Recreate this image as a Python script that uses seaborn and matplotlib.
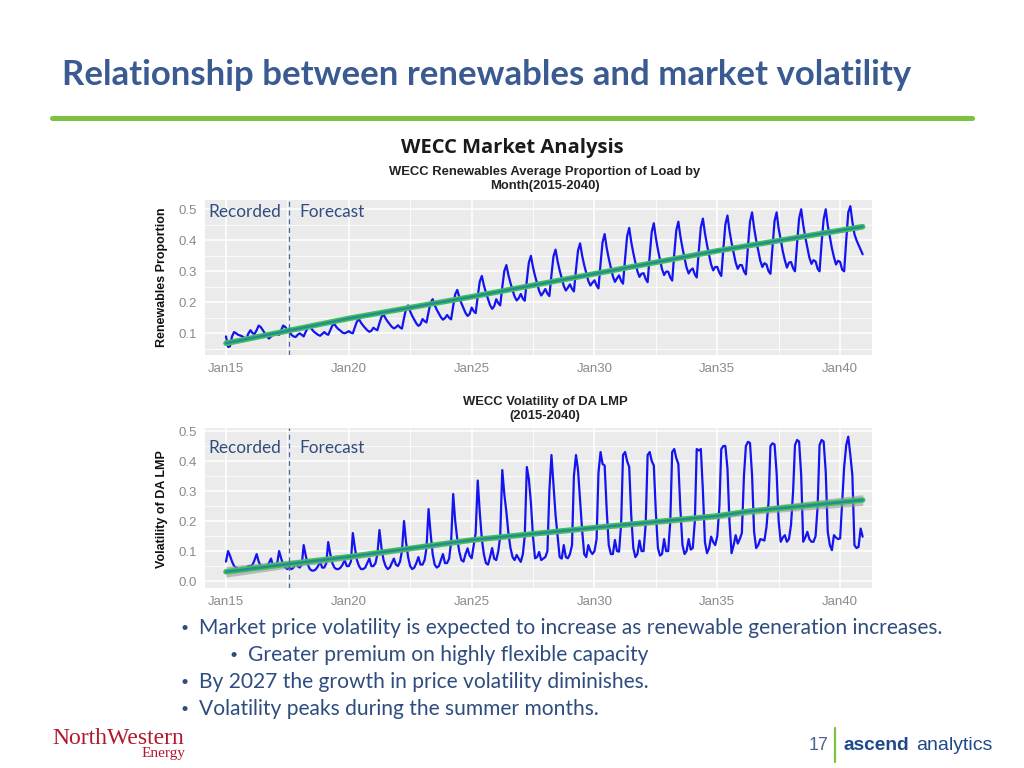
import numpy as np
import pandas as pd
import seaborn as sns
import matplotlib
matplotlib.use("Agg")
import matplotlib.pyplot as plt
import matplotlib.dates as mdates
from matplotlib.lines import Line2D
from matplotlib.ticker import FormatStrFormatter, MultipleLocator

# monthly values, one row of 12 per year, 2015..2040
renew_by_year = [
    [0.090, 0.056, 0.058, 0.090, 0.104, 0.100, 0.095, 0.093, 0.090, 0.085, 0.083, 0.100],
    [0.110, 0.100, 0.098, 0.110, 0.125, 0.120, 0.110, 0.100, 0.090, 0.083, 0.090, 0.095],
    [0.100, 0.098, 0.095, 0.110, 0.125, 0.120, 0.112, 0.105, 0.095, 0.090, 0.088, 0.095],
    [0.100, 0.095, 0.090, 0.105, 0.118, 0.120, 0.113, 0.105, 0.100, 0.095, 0.092, 0.098],
    [0.104, 0.098, 0.095, 0.110, 0.125, 0.130, 0.120, 0.113, 0.108, 0.102, 0.100, 0.103],
    [0.107, 0.102, 0.100, 0.120, 0.138, 0.145, 0.134, 0.125, 0.117, 0.110, 0.105, 0.108],
    [0.118, 0.113, 0.110, 0.133, 0.153, 0.160, 0.148, 0.138, 0.129, 0.121, 0.116, 0.119],
    [0.126, 0.119, 0.115, 0.149, 0.179, 0.190, 0.171, 0.156, 0.144, 0.132, 0.124, 0.129],
    [0.146, 0.139, 0.135, 0.169, 0.199, 0.210, 0.191, 0.176, 0.164, 0.152, 0.144, 0.149],
    [0.159, 0.150, 0.145, 0.188, 0.226, 0.240, 0.216, 0.197, 0.181, 0.166, 0.156, 0.162],
    [0.183, 0.171, 0.165, 0.219, 0.267, 0.285, 0.255, 0.231, 0.211, 0.191, 0.179, 0.187],
    [0.210, 0.197, 0.190, 0.249, 0.301, 0.320, 0.288, 0.262, 0.239, 0.219, 0.206, 0.213],
    [0.227, 0.212, 0.205, 0.270, 0.328, 0.350, 0.314, 0.285, 0.260, 0.237, 0.222, 0.231],
    [0.243, 0.228, 0.220, 0.288, 0.348, 0.370, 0.333, 0.303, 0.277, 0.253, 0.238, 0.247],
    [0.258, 0.243, 0.235, 0.305, 0.367, 0.390, 0.351, 0.320, 0.294, 0.269, 0.254, 0.263],
    [0.271, 0.254, 0.245, 0.324, 0.394, 0.420, 0.376, 0.341, 0.312, 0.284, 0.266, 0.277],
    [0.287, 0.269, 0.260, 0.341, 0.413, 0.440, 0.395, 0.359, 0.328, 0.300, 0.282, 0.292],
    [0.294, 0.275, 0.265, 0.351, 0.427, 0.455, 0.408, 0.370, 0.337, 0.307, 0.288, 0.299],
    [0.299, 0.280, 0.270, 0.356, 0.432, 0.460, 0.413, 0.375, 0.342, 0.312, 0.293, 0.304],
    [0.309, 0.290, 0.280, 0.366, 0.442, 0.470, 0.423, 0.385, 0.352, 0.322, 0.303, 0.314],
    [0.314, 0.295, 0.285, 0.373, 0.451, 0.480, 0.431, 0.392, 0.359, 0.328, 0.308, 0.320],
    [0.320, 0.300, 0.290, 0.380, 0.460, 0.490, 0.440, 0.400, 0.366, 0.334, 0.314, 0.326],
    [0.322, 0.300, 0.292, 0.378, 0.462, 0.490, 0.438, 0.402, 0.364, 0.336, 0.312, 0.328],
    [0.330, 0.310, 0.300, 0.390, 0.470, 0.500, 0.450, 0.410, 0.376, 0.344, 0.324, 0.336],
    [0.332, 0.308, 0.300, 0.392, 0.468, 0.500, 0.448, 0.412, 0.374, 0.346, 0.322, 0.334],
    [0.330, 0.305, 0.300, 0.400, 0.490, 0.510, 0.460, 0.420, 0.400, 0.385, 0.370, 0.355],
]

vol_by_year = [
    [0.065, 0.100, 0.085, 0.065, 0.050, 0.045, 0.040, 0.040, 0.045, 0.040, 0.045, 0.050],
    [0.050, 0.055, 0.070, 0.090, 0.065, 0.050, 0.045, 0.045, 0.050, 0.060, 0.075, 0.050],
    [0.050, 0.060, 0.100, 0.075, 0.055, 0.045, 0.040, 0.045, 0.040, 0.045, 0.060, 0.050],
    [0.045, 0.055, 0.120, 0.085, 0.055, 0.040, 0.035, 0.035, 0.040, 0.050, 0.065, 0.045],
    [0.045, 0.060, 0.130, 0.090, 0.060, 0.045, 0.040, 0.040, 0.045, 0.055, 0.070, 0.050],
    [0.050, 0.065, 0.160, 0.110, 0.070, 0.050, 0.040, 0.040, 0.045, 0.060, 0.075, 0.050],
    [0.050, 0.060, 0.090, 0.170, 0.110, 0.070, 0.050, 0.040, 0.045, 0.060, 0.075, 0.055],
    [0.050, 0.065, 0.100, 0.200, 0.130, 0.080, 0.050, 0.040, 0.045, 0.060, 0.080, 0.055],
    [0.055, 0.070, 0.110, 0.240, 0.160, 0.090, 0.055, 0.045, 0.050, 0.070, 0.090, 0.060],
    [0.060, 0.075, 0.130, 0.290, 0.200, 0.140, 0.098, 0.070, 0.065, 0.090, 0.109, 0.085],
    [0.076, 0.120, 0.160, 0.335, 0.230, 0.140, 0.090, 0.060, 0.055, 0.080, 0.110, 0.075],
    [0.070, 0.100, 0.150, 0.370, 0.290, 0.230, 0.160, 0.110, 0.080, 0.070, 0.087, 0.075],
    [0.064, 0.090, 0.150, 0.380, 0.340, 0.260, 0.150, 0.076, 0.080, 0.097, 0.070, 0.075],
    [0.080, 0.100, 0.300, 0.420, 0.320, 0.220, 0.150, 0.080, 0.075, 0.120, 0.080, 0.076],
    [0.090, 0.120, 0.350, 0.420, 0.370, 0.270, 0.170, 0.090, 0.080, 0.120, 0.100, 0.090],
    [0.100, 0.140, 0.360, 0.430, 0.390, 0.385, 0.240, 0.120, 0.090, 0.090, 0.137, 0.100],
    [0.098, 0.190, 0.420, 0.430, 0.400, 0.380, 0.220, 0.110, 0.080, 0.090, 0.135, 0.100],
    [0.100, 0.190, 0.420, 0.430, 0.400, 0.385, 0.230, 0.110, 0.085, 0.090, 0.140, 0.100],
    [0.100, 0.200, 0.430, 0.440, 0.410, 0.390, 0.240, 0.120, 0.090, 0.100, 0.140, 0.105],
    [0.110, 0.200, 0.440, 0.435, 0.440, 0.300, 0.130, 0.093, 0.110, 0.148, 0.130, 0.120],
    [0.150, 0.250, 0.440, 0.450, 0.450, 0.375, 0.198, 0.093, 0.120, 0.153, 0.125, 0.140],
    [0.160, 0.350, 0.450, 0.464, 0.460, 0.353, 0.164, 0.110, 0.120, 0.140, 0.138, 0.135],
    [0.180, 0.264, 0.450, 0.459, 0.455, 0.360, 0.200, 0.131, 0.145, 0.153, 0.131, 0.140],
    [0.187, 0.300, 0.453, 0.470, 0.465, 0.353, 0.131, 0.145, 0.164, 0.140, 0.131, 0.131],
    [0.150, 0.250, 0.453, 0.470, 0.465, 0.364, 0.164, 0.120, 0.103, 0.153, 0.145, 0.140],
    [0.142, 0.264, 0.380, 0.453, 0.481, 0.420, 0.353, 0.120, 0.110, 0.114, 0.175, 0.148],
]

# smoothed trend lines
renew_trend_dates = ["2015-01-01", "2020-01-01", "2025-01-01", "2030-01-01", "2035-01-01", "2040-12-01"]
renew_trend_vals = [0.068, 0.148, 0.218, 0.292, 0.366, 0.444]
renew_trend_band = [0.008, 0.005, 0.004, 0.004, 0.004, 0.008]

vol_trend_dates = ["2015-01-01", "2017-07-25", "2020-01-01", "2025-01-01", "2030-01-01",
                   "2035-01-01", "2036-04-01", "2040-12-01"]
vol_trend_vals = [0.031, 0.057, 0.081, 0.137, 0.178, 0.217, 0.232, 0.270]
vol_trend_band = [0.018, 0.013, 0.010, 0.008, 0.008, 0.010, 0.011, 0.018]

split_date = "2017-07-25"

bullets = [
    (0, "Market price volatility is expected to increase as renewable generation increases."),
    (1, "Greater premium on highly flexible capacity"),
    (0, "By 2027 the growth in price volatility diminishes."),
    (0, "Volatility peaks during the summer months."),
]

months = pd.date_range("2015-01-01", "2040-12-01", freq="MS")
df = pd.DataFrame({
    "date": months,
    "renew": np.concatenate(renew_by_year),
    "vol": np.concatenate(vol_by_year),
})

sns.set_theme(style="darkgrid", rc={
    "axes.facecolor": "#EBEBEB",
    "grid.color": "white",
})
plt.rcParams["font.family"] = ["Lato", "DejaVu Sans"]

W, H = 1024, 768
fig = plt.figure(figsize=(W / 100, H / 100), dpi=100)
fig.patch.set_facecolor("white")


def px(x, y):
    return x / W, 1 - y / H


SLIDE_BLUE = "#3A5A92"
TEXT_BLUE = "#2F4C7E"


def style_axis(ax, ylim, yticks):
    ax.xaxis.set_major_locator(mdates.YearLocator(5))
    ax.xaxis.set_major_formatter(mdates.DateFormatter("%b%y"))
    minor = pd.to_datetime([f"{y}-07-02" for y in range(2012, 2043, 5)])
    ax.set_xticks(minor, minor=True)
    ax.set_yticks(yticks)
    ax.yaxis.set_minor_locator(MultipleLocator(0.05))
    ax.yaxis.set_major_formatter(FormatStrFormatter("%.1f"))
    # limits last, set_xticks widens the view otherwise
    ax.set_xlim(pd.Timestamp("2014-02-23"), pd.Timestamp("2041-04-19"))
    ax.set_ylim(*ylim)
    ax.grid(True, which="major", color="white", lw=1.1)
    ax.grid(True, which="minor", color="white", lw=0.6)
    for s in ax.spines.values():
        s.set_visible(False)
    ax.tick_params(axis="both", which="major", length=3, width=0.8, color="#333333",
                   labelsize=9.5, labelcolor="#8A8A8A", pad=3)
    ax.tick_params(axis="both", which="minor", length=0)
    for lab in ax.get_xticklabels() + ax.get_yticklabels():
        lab.set_family("Liberation Sans")
    ax.set_xlabel("")
    ax.set_ylabel("")


def draw_panel(ax, col, tdates, tvals, tband):
    sns.lineplot(data=df, x="date", y=col, ax=ax, color="#1414F0", lw=1.6)
    td = pd.to_datetime(tdates)
    tv = np.array(tvals)
    tb = np.array(tband)
    ax.fill_between(td, tv - tb, tv + tb, color="#9A9A9A", alpha=0.6, lw=0, zorder=3)
    sns.lineplot(x=td, y=tv, ax=ax, color="#3CC25A", lw=4.0, zorder=4)
    sns.lineplot(x=td, y=tv, ax=ax, color="#2A8A92", lw=1.8, zorder=5)
    ax.axvline(pd.Timestamp(split_date), color="#4A68A8", lw=0.9, ls=(0, (4, 3)), zorder=6)


# top chart
ax1 = fig.add_axes([205 / W, 1 - 355 / H, 667 / W, 155 / H])
draw_panel(ax1, "renew", renew_trend_dates, renew_trend_vals, renew_trend_band)
style_axis(ax1, (0.03, 0.53), [0.1, 0.2, 0.3, 0.4, 0.5])

# bottom chart
ax2 = fig.add_axes([205 / W, 1 - 588 / H, 667 / W, 160 / H])
draw_panel(ax2, "vol", vol_trend_dates, vol_trend_vals, vol_trend_band)
style_axis(ax2, (-0.023, 0.51), [0.0, 0.1, 0.2, 0.3, 0.4, 0.5])

# y labels
fig.text(*px(162, 277), "Renewables Proportion", rotation=90, ha="center", va="center",
         fontsize=9, fontweight="bold", family="Liberation Sans", color="#111111")
fig.text(*px(162, 509), "Volatility of DA LMP", rotation=90, ha="center", va="center",
         fontsize=9, fontweight="bold", family="Liberation Sans", color="#111111")

# chart titles
for (yy, txt) in [(172, "WECC Renewables Average Proportion of Load by"), (186, "Month(2015-2040)"),
                  (402, "WECC Volatility of DA LMP"), (416, "(2015-2040)")]:
    fig.text(*px(545, yy), txt, ha="center", va="center",
             fontsize=9.4, fontweight="bold", family="Liberation Sans", color="#222222")

# recorded / forecast labels
for yy in (212, 448):
    fig.text(*px(281, yy), "Recorded", ha="right", va="center", fontsize=12.4, color=TEXT_BLUE)
    fig.text(*px(299, yy), "Forecast", ha="left", va="center", fontsize=12.4, color=TEXT_BLUE)

# slide title and rule
fig.text(*px(62, 75), "Relationship between renewables and market volatility", ha="left", va="center",
         fontsize=25, fontweight="bold", color=SLIDE_BLUE)
fig.add_artist(Line2D([52 / W, 972 / W], [1 - 118 / H] * 2, color="#7DC242", lw=3.6))
fig.text(*px(512, 148), "WECC Market Analysis", ha="center", va="center",
         fontsize=14.5, fontweight="bold", family=["Open Sans", "DejaVu Sans"], color="#1A1A1A")

# bullets
for i, (lvl, txt) in enumerate(bullets):
    y = 628 + i * 27
    bx = 185 if lvl == 0 else 234
    fig.text(*px(bx, y), "\u2022", ha="center", va="center", fontsize=10, color=TEXT_BLUE)
    fig.text(*px(bx + 14, y), txt, ha="left", va="center", fontsize=15.1, color=TEXT_BLUE)

# footer
fig.text(*px(52, 744), "NorthWestern", ha="left", va="baseline", fontsize=17,
         family="Liberation Serif", color="#B0182E")
fig.text(*px(185, 747), "Energy", ha="right", va="top", fontsize=11,
         family="Liberation Serif", color="#B0182E")
fig.text(*px(828, 745), "17", ha="right", va="center", fontsize=13,
         family="Liberation Sans", color="#4A6490")
fig.add_artist(Line2D([835 / W] * 2, [1 - 728 / H, 1 - 762 / H], color="#7DC242", lw=1.6))
fig.text(*px(844, 745), "ascend", ha="left", va="center", fontsize=13.8, fontweight="bold",
         family="Liberation Sans", color="#1F4A8A")
fig.text(*px(916, 745), "analytics", ha="left", va="center", fontsize=14,
         family="Liberation Sans", color="#1F4A8A")

fig.savefig("out.png", dpi=100)
